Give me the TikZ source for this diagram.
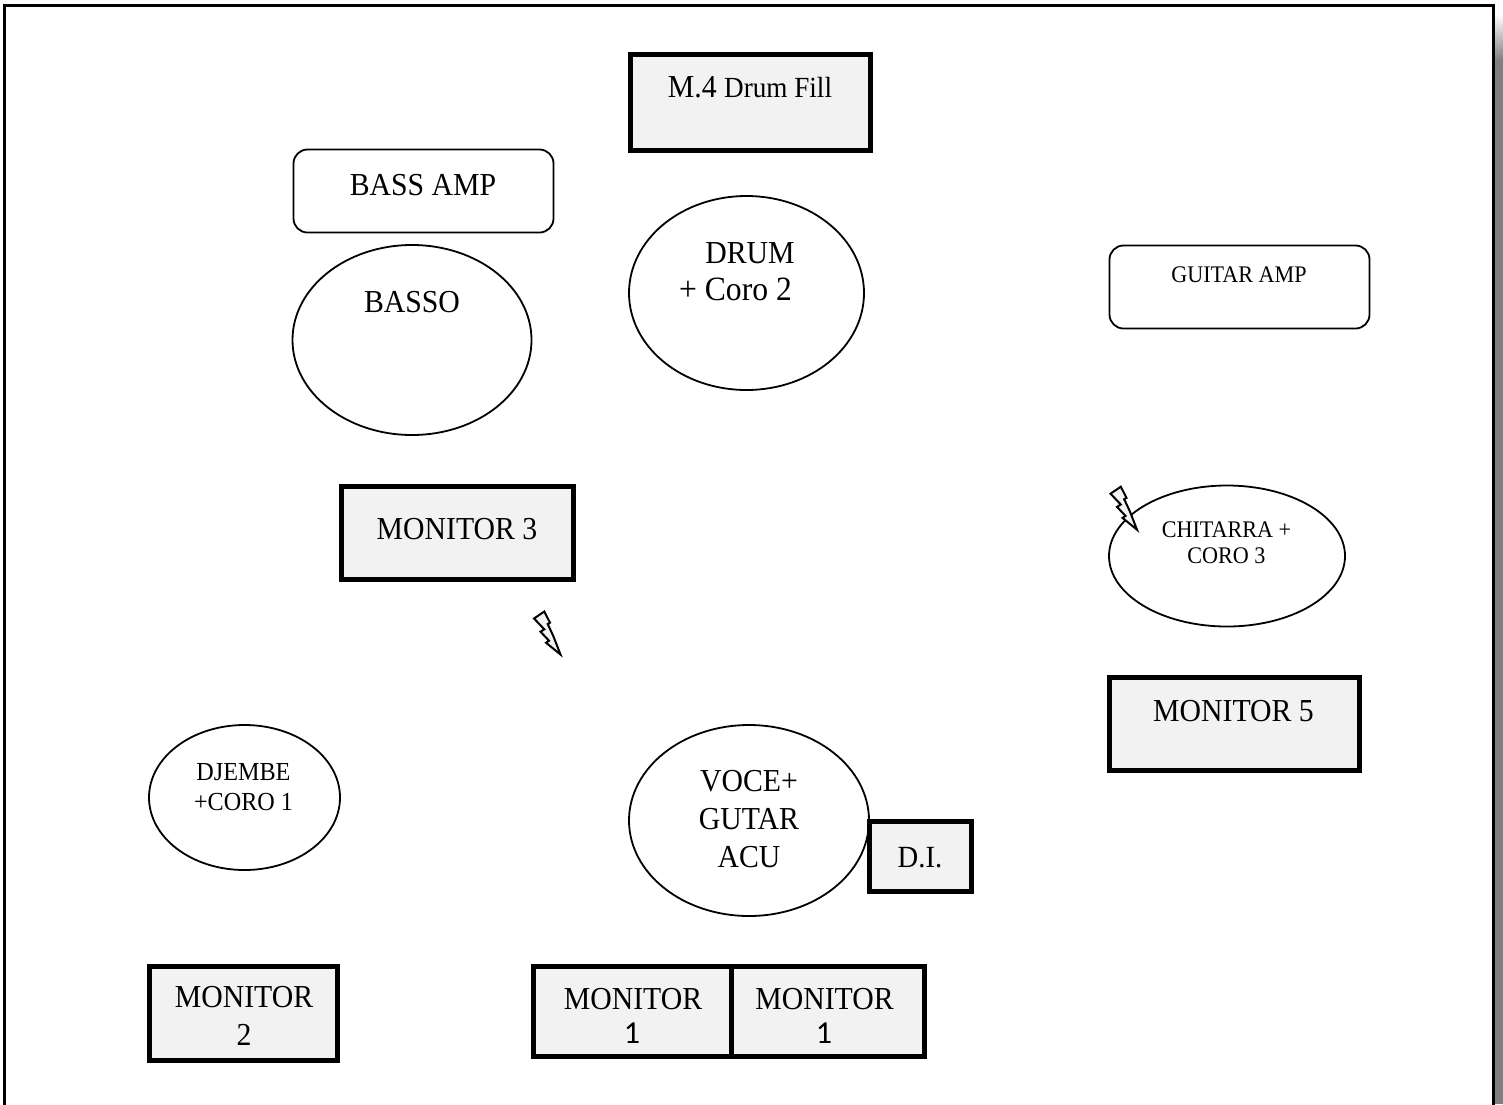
\documentclass[tikz,border=0pt]{standalone}
\usepackage{fontspec}
\setmainfont[FakeStretch=0.93]{Liberation Serif}
\newfontfamily\numfont{Carlito}
\usetikzlibrary{shapes.geometric}
\definecolor{boxfill}{HTML}{F2F2F2}
\tikzset{
  x=0.5pt,y=-0.5pt,
  monbox/.style={draw=black,line width=2.5pt,fill=boxfill,rectangle,inner sep=0pt,minimum width=#1},
  monh/.style={minimum height=#1},
  amp/.style={draw=black,line width=0.9pt,rectangle,rounded corners=7pt,inner sep=0pt,fill=white},
  oval/.style={draw=black,line width=0.9pt,ellipse,inner sep=0pt,fill=white},
  big/.style={font=\fontsize{16}{19}\selectfont,align=center,inner sep=0pt},
  small/.style={font=\fontsize{11.9}{13}\selectfont,align=center,inner sep=0pt},
  mid/.style={font=\fontsize{13}{15}\selectfont,align=center,inner sep=0pt},
  digit/.style={font=\fontsize{16}{18}\selectfont\numfont,anchor=base,inner sep=0pt},
  bolt/.style={draw=black,line width=1pt,fill=boxfill,line join=miter},
}
\begin{document}
\begin{tikzpicture}
\useasboundingbox (0,0) rectangle (1503,1104);
% page shadow
\shade[top color=white,bottom color=black!50] (1495,14) rectangle (1503,60);
\fill[black!50] (1495,60) rectangle (1503,1104);
\draw[black,line width=1.2pt,fill=white] (4.5,1110) -- (4.5,5.5) -- (1493.5,5.5) -- (1493.5,1110);
% boxes
\node[monbox=120pt,monh=48pt] (m4) at (750,102) {};
\node[big,anchor=base] (m4t) at (750,97) {M.4 {\fontsize{14.6}{16}\selectfont Drum Fill}};
\node[amp,minimum width=130pt,minimum height=41.5pt] (bassamp) at (423.5,191) {};
\node[big,anchor=base] (bassampt) at (423,195) {BASS AMP};
\node[oval,minimum width=119.5pt,minimum height=95pt] (basso) at (412,340) {};
\node[big,anchor=base] (bassot) at (412,312) {BASSO};
\node[oval,minimum width=117.5pt,minimum height=97pt] (drum) at (746.5,293) {};
\node[big,anchor=base] (drumt) at (750,263) {DRUM};
\node[big,anchor=base,font=\fontsize{17}{19}\selectfont] (corot) at (735.5,300) {+ Coro 2};
\node[amp,minimum width=130pt,minimum height=41.5pt] (guitamp) at (1239.5,287) {};
\node[small,anchor=base] (guitampt) at (1239,282) {GUITAR AMP};
\node[monbox=116pt,monh=46.5pt] (m3) at (457,532.5) {};
\node[big,anchor=base] (m3t) at (457,539) {MONITOR 3};
\node[oval,minimum width=118pt,minimum height=70.5pt] (chit) at (1227,556) {};
\node[small] (chitt) at (1226.5,543) {CHITARRA +\\CORO 3};
\node[monbox=125pt,monh=46.5pt] (m5) at (1234.5,724) {};
\node[big,anchor=base] (m5t) at (1233.5,721) {MONITOR 5};
\node[oval,minimum width=95.5pt,minimum height=72.5pt] (dj) at (244.5,797.5) {};
\node[mid] (djt) at (243.5,787) {DJEMBE\\+CORO 1};
\node[oval,minimum width=120pt,minimum height=95.5pt] (voce) at (749,820.5) {};
\node[big] (vocet) at (749,819) {VOCE+\\GUTAR\\ACU};
\node[monbox=51pt,monh=35pt] (di) at (920,856.5) {};
\node[anchor=base,inner sep=0pt,font=\fontsize{15.4}{17}\selectfont] (dit) at (920,867) {D.I.};
\node[monbox=94pt,monh=47pt] (m2) at (243.5,1013) {};
\node[big] (m2t) at (244,1016) {MONITOR\\2};
\node[monbox=99pt,monh=45pt] (m1a) at (632.5,1011) {};
\node[big,anchor=base] (m1at) at (633,1009) {MONITOR};
\node[digit] (m1an) at (632,1043) {1};
\node[monbox=96.5pt,monh=45pt] (m1b) at (828,1011) {};
\node[big,anchor=base] (m1bt) at (824.5,1009) {MONITOR};
\node[digit] (m1bn) at (824,1043) {1};
% bolts
\draw[bolt] (544.3,611.5) -- (534,618.5) -- (544.3,629.3) -- (540.5,631.7) -- (549,640.7) -- (546,642.7) -- (560.5,654.5) -- (553.3,636) -- (547.7,624) -- (550,622.7) -- cycle;
\draw[bolt] (1120.8,486.7) -- (1110.5,493.7) -- (1120.8,504.5) -- (1117,506.9) -- (1125.5,515.9) -- (1122.5,517.9) -- (1137,529.7) -- (1129.8,511.2) -- (1124.2,499.2) -- (1126.5,497.9) -- cycle;
\end{tikzpicture}
\end{document}
